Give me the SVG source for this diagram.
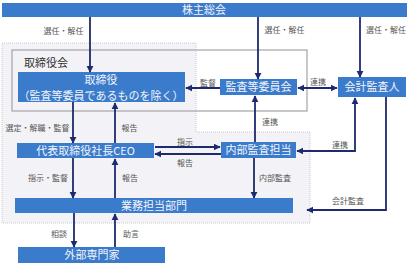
<svg xmlns="http://www.w3.org/2000/svg" width="413" height="266" viewBox="0 0 413 266">
<style>
.box{fill:#3b7bcb;}
.nt{font-family:"Noto Sans CJK JP","Liberation Sans",sans-serif;font-size:11px;fill:#f2f4fa;text-anchor:middle;}
.lb{font-family:"Noto Sans CJK JP","Liberation Sans",sans-serif;font-size:8px;fill:#555;text-anchor:middle;}
.ln{stroke:#1d2b6e;stroke-width:1.8;fill:none;}
</style>
<defs>
<marker id="ah" viewBox="0 0 10 10" refX="9" refY="5" markerWidth="4" markerHeight="4" orient="auto-start-reverse" markerUnits="strokeWidth">
<path d="M0,0 L10,5 L0,10 z" fill="#1d2b6e"/>
</marker>
</defs>
<rect width="413" height="266" fill="#ffffff"/>
<path d="M2,43 H196 V132 H310 V223 H2 Z" fill="#f3f3f7" stroke="#c9c9cf" stroke-width="1" stroke-dasharray="1,1"/>
<g id="board">
<rect x="12" y="50" width="295" height="61" fill="none" stroke="#a3a3a8" stroke-width="1.2"/>
<text x="24" y="67" font-family="Noto Sans CJK JP,sans-serif" font-size="11" fill="#333">取締役会</text>
</g>
<g id="shareholders">
<rect class="box" x="2" y="3" width="405" height="14"/>
<text class="nt" x="204" y="14">株主総会</text>
</g>
<g id="directors">
<rect class="box" x="18" y="72" width="167" height="30"/>
<text class="nt" x="101" y="83.5" font-size="9.5">取締役</text>
<text class="nt" x="101" y="99.5" font-size="9.5">（監査等委員であるものを除く）</text>
</g>
<g id="committee">
<rect class="box" x="220" y="79" width="77" height="16"/>
<text class="nt" x="258.5" y="91">監査等委員会</text>
</g>
<g id="accountant">
<rect class="box" x="338" y="77" width="68" height="20"/>
<text class="nt" x="372" y="91">会計監査人</text>
</g>
<g id="ceo">
<rect class="box" x="17" y="143" width="137" height="15"/>
<text class="nt" x="85.5" y="154.5">代表取締役社長CEO</text>
</g>
<g id="internal-audit">
<rect class="box" x="221" y="142" width="75" height="16"/>
<text class="nt" x="258.5" y="154">内部監査担当</text>
</g>
<g id="business">
<rect class="box" x="15" y="198" width="278" height="15"/>
<text class="nt" x="154" y="209.5">業務担当部門</text>
</g>
<g id="external">
<rect class="box" x="18" y="247" width="147" height="16"/>
<text class="nt" x="92" y="259">外部専門家</text>
</g>
<g id="connectors">
<line class="ln" x1="90" y1="17" x2="90" y2="72" marker-end="url(#ah)"/>
<line class="ln" x1="258" y1="17" x2="258" y2="79" marker-end="url(#ah)"/>
<line class="ln" x1="360" y1="17" x2="360" y2="77" marker-end="url(#ah)"/>
<line class="ln" x1="220" y1="88" x2="186" y2="88" marker-end="url(#ah)"/>
<line class="ln" x1="298" y1="88" x2="337" y2="88" marker-start="url(#ah)" marker-end="url(#ah)"/>
<line class="ln" x1="73" y1="102" x2="73" y2="143" marker-end="url(#ah)"/>
<line class="ln" x1="115" y1="143" x2="115" y2="103" marker-end="url(#ah)"/>
<line class="ln" x1="255" y1="142" x2="255" y2="96" marker-end="url(#ah)"/>
<polyline class="ln" points="355,98 355,151 297,151" marker-start="url(#ah)" marker-end="url(#ah)"/>
<polyline class="ln" points="386,97 386,210 307,210" marker-end="url(#ah)"/>
<line class="ln" x1="155" y1="147" x2="220" y2="147" marker-end="url(#ah)"/>
<line class="ln" x1="221" y1="154" x2="155" y2="154" marker-end="url(#ah)"/>
<line class="ln" x1="73" y1="158" x2="73" y2="198" marker-end="url(#ah)"/>
<line class="ln" x1="115" y1="198" x2="115" y2="159" marker-end="url(#ah)"/>
<line class="ln" x1="254" y1="158" x2="254" y2="198" marker-end="url(#ah)"/>
<line class="ln" x1="74" y1="213" x2="74" y2="247" marker-end="url(#ah)"/>
<line class="ln" x1="115" y1="247" x2="115" y2="214" marker-end="url(#ah)"/>
<text class="lb" x="63.5" y="34">選任・解任</text>
<text class="lb" x="284.5" y="33">選任・解任</text>
<text class="lb" x="386" y="33">選任・解任</text>
<text class="lb" x="208" y="86">監督</text>
<text class="lb" x="318" y="85">連携</text>
<text class="lb" x="37.5" y="131">選定・解職・監督</text>
<text class="lb" x="129.5" y="131">報告</text>
<text class="lb" x="270" y="125">連携</text>
<text class="lb" x="185" y="145">指示</text>
<text class="lb" x="185" y="166">報告</text>
<text class="lb" x="340" y="148">連携</text>
<text class="lb" x="348" y="204">会計監査</text>
<text class="lb" x="48" y="181">指示・監督</text>
<text class="lb" x="130" y="181">報告</text>
<text class="lb" x="275" y="181">内部監査</text>
<text class="lb" x="59" y="237">相談</text>
<text class="lb" x="131" y="237">助言</text>
</g>
</svg>
